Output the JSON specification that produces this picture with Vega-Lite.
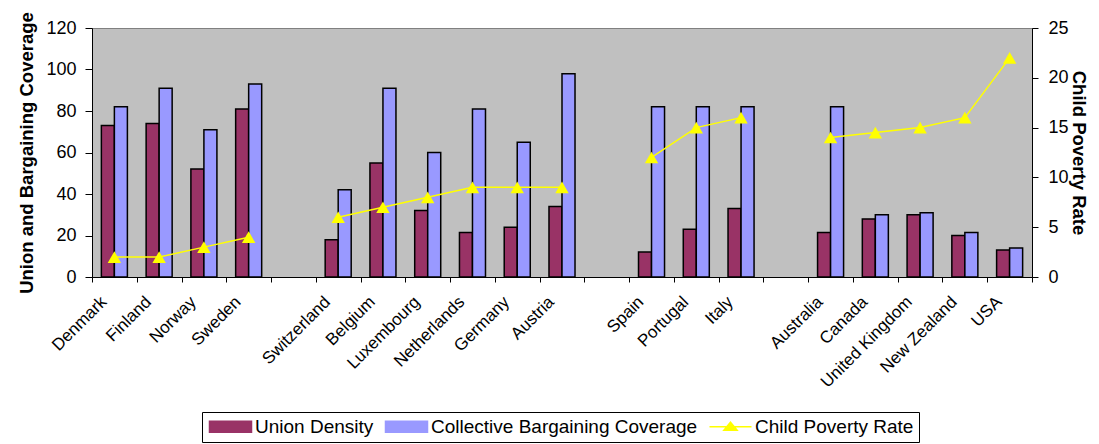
{
  "$schema": "https://vega.github.io/schema/vega-lite/v6.json",
  "autosize": {"type": "none"},
  "width": 940,
  "height": 249,
  "padding": {"left": 92, "top": 28, "right": 67, "bottom": 167},
  "background": "white",
  "config": {
    "font": "Liberation Sans",
    "view": {"fill": "#C0C0C0", "stroke": "#808080", "strokeWidth": 1},
    "axis": {"grid": false, "domainColor": "black", "tickColor": "black", "labelColor": "black", "titleColor": "black", "labelFont": "Liberation Sans", "titleFont": "Liberation Sans"}
  },
  "data": {
    "values": [
      {"country": "Denmark", "group": "Nordic", "Union Density": 73, "Collective Bargaining Coverage": 82, "Child Poverty Rate": 2},
      {"country": "Finland", "group": "Nordic", "Union Density": 74, "Collective Bargaining Coverage": 91, "Child Poverty Rate": 2},
      {"country": "Norway", "group": "Nordic", "Union Density": 52, "Collective Bargaining Coverage": 71, "Child Poverty Rate": 3},
      {"country": "Sweden", "group": "Nordic", "Union Density": 81, "Collective Bargaining Coverage": 93, "Child Poverty Rate": 4},
      {"country": "Switzerland", "group": "Continental", "Union Density": 18, "Collective Bargaining Coverage": 42, "Child Poverty Rate": 6},
      {"country": "Belgium", "group": "Continental", "Union Density": 55, "Collective Bargaining Coverage": 91, "Child Poverty Rate": 7},
      {"country": "Luxembourg", "group": "Continental", "Union Density": 32, "Collective Bargaining Coverage": 60, "Child Poverty Rate": 8},
      {"country": "Netherlands", "group": "Continental", "Union Density": 21.5, "Collective Bargaining Coverage": 81, "Child Poverty Rate": 9},
      {"country": "Germany", "group": "Continental", "Union Density": 24, "Collective Bargaining Coverage": 65, "Child Poverty Rate": 9},
      {"country": "Austria", "group": "Continental", "Union Density": 34, "Collective Bargaining Coverage": 98, "Child Poverty Rate": 9},
      {"country": "Spain", "group": "Southern", "Union Density": 12, "Collective Bargaining Coverage": 82, "Child Poverty Rate": 12},
      {"country": "Portugal", "group": "Southern", "Union Density": 23, "Collective Bargaining Coverage": 82, "Child Poverty Rate": 15},
      {"country": "Italy", "group": "Southern", "Union Density": 33, "Collective Bargaining Coverage": 82, "Child Poverty Rate": 16},
      {"country": "Australia", "group": "Anglo", "Union Density": 21.5, "Collective Bargaining Coverage": 82, "Child Poverty Rate": 14},
      {"country": "Canada", "group": "Anglo", "Union Density": 28, "Collective Bargaining Coverage": 30, "Child Poverty Rate": 14.5},
      {"country": "United Kingdom", "group": "Anglo", "Union Density": 30, "Collective Bargaining Coverage": 31, "Child Poverty Rate": 15},
      {"country": "New Zealand", "group": "Anglo", "Union Density": 20, "Collective Bargaining Coverage": 21.5, "Child Poverty Rate": 16},
      {"country": "USA", "group": "Anglo", "Union Density": 13, "Collective Bargaining Coverage": 14, "Child Poverty Rate": 22}
    ]
  },
  "encoding": {
    "x": {
      "field": "country",
      "type": "nominal",
      "scale": {
        "domain": ["Denmark", "Finland", "Norway", "Sweden", " ", "Switzerland", "Belgium", "Luxembourg", "Netherlands", "Germany", "Austria", "  ", "Spain", "Portugal", "Italy", "   ", "Australia", "Canada", "United Kingdom", "New Zealand", "USA"],
        "paddingInner": 0,
        "paddingOuter": 0
      },
      "axis": {
        "title": null,
        "tickBand": "extent",
        "tickSize": 5,
        "labelAngle": -45,
        "labelAlign": "right",
        "labelBaseline": "middle",
        "labelFontSize": 17,
        "labelPadding": 17,
        "labelOffset": -11
      }
    },
    "color": {
      "field": "series",
      "type": "nominal",
      "sort": null,
      "scale": {"domain": ["Union Density", "Collective Bargaining Coverage", "Child Poverty Rate"], "range": ["#993366", "#9999FF", "#FFFF00"]},
      "legend": {
        "title": null,
        "orient": "none",
        "direction": "horizontal",
        "legendX": 110,
        "legendY": 384,
        "strokeColor": "black",
        "fillColor": "white",
        "padding": 5,
        "labelFontSize": 19,
        "labelFont": "Liberation Sans",
        "labelColor": "black",
        "labelLimit": 400,
        "labelOffset": 29,
        "columnPadding": 8,
        "symbolSize": 196,
        "symbolStrokeWidth": 1.5,
        "symbolOpacity": 1,
        "symbolType": {"expr": "datum.value === 'Child Poverty Rate' ? 'M-1,0H5M2,-0.65L2.95,0.5L1.05,0.5Z' : 'M-1,-0.79H5V0.79H-1Z'"},
        "symbolStrokeColor": {"expr": "datum.value === 'Child Poverty Rate' ? '#FFFF00' : 'black'"}
      }
    }
  },
  "layer": [
    {
      "transform": [{"fold": ["Union Density", "Collective Bargaining Coverage"], "as": ["series", "value"]}],
      "mark": {"type": "bar", "stroke": "black", "strokeWidth": 1.5},
      "encoding": {
        "xOffset": {
          "field": "series",
          "type": "nominal",
          "scale": {"domain": ["Union Density", "Collective Bargaining Coverage"], "paddingInner": 0, "paddingOuter": 0.72}
        },
        "y": {
          "field": "value",
          "type": "quantitative",
          "scale": {"domain": [0, 120], "nice": false},
          "axis": {"title": "Union and Bargaining Coverage", "values": [0, 20, 40, 60, 80, 100, 120], "labelFontSize": 18, "labelPadding": 9, "titleFontSize": 18.5, "titleFontWeight": "bold", "titleX": -66, "titleBaseline": "middle", "tickSize": 7}
        }
      }
    },
    {
      "transform": [{"fold": ["Child Poverty Rate"], "as": ["series", "rate"]}],
      "mark": {"type": "line", "strokeWidth": 1.5},
      "encoding": {
        "y": {
          "field": "rate",
          "type": "quantitative",
          "scale": {"domain": [0, 25], "nice": false},
          "axis": {"orient": "right", "title": "Child Poverty Rate", "values": [0, 5, 10, 15, 20, 25], "labelFontSize": 18, "labelPadding": 10, "titleFontSize": 18.5, "titleFontWeight": "bold", "titleX": 46, "titleBaseline": "middle", "tickSize": 6}
        },
        "detail": {"field": "group"}
      }
    },
    {
      "transform": [{"fold": ["Child Poverty Rate"], "as": ["series", "rate"]}],
      "mark": {"type": "point", "shape": "triangle-up", "filled": true, "size": 180, "opacity": 1},
      "encoding": {
        "y": {"field": "rate", "type": "quantitative", "scale": {"domain": [0, 25], "nice": false}, "axis": null}
      }
    }
  ],
  "resolve": {"scale": {"y": "independent"}}
}
